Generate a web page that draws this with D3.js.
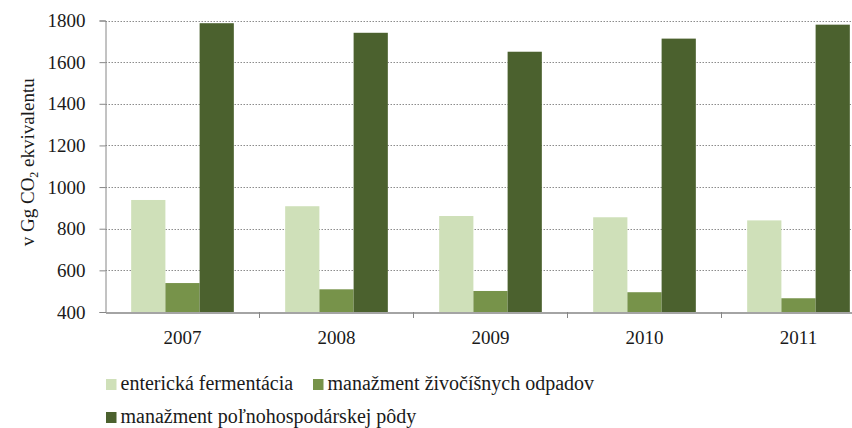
<!DOCTYPE html>
<html>
<head>
<meta charset="utf-8">
<script src="https://cdn.jsdelivr.net/npm/d3@7"></script>
<style>
  body { margin: 0; background: #fff; }
  svg { display: block; }
</style>
</head>
<body>
<div id="chart"></div>
<script>
const years = ["2007", "2008", "2009", "2010", "2011"];
const seriesNames = ["enterická fermentácia", "manažment živočíšnych odpadov", "manažment poľnohospodárskej pôdy"];
const enteric = [938, 908, 861, 855, 840];
const manure = [539, 509, 501, 495, 466];
const soils = [1787, 1741, 1650, 1713, 1780];
const yTicks = [400, 600, 800, 1000, 1200, 1400, 1600, 1800];
const colors = ["#cfe0b9", "#77934a", "#4b612e"];

const width = 852, height = 428;
const margin = { top: 20.5, left: 105.5, bottom: 116 };
const plotBottom = height - margin.bottom;
const fontFamily = '"Liberation Serif", "DejaVu Serif", serif';
const fontSize = 19;

const svg = d3.select("#chart").append("svg")
  .attr("width", width)
  .attr("height", height)
  .attr("font-family", fontFamily);

const data = years.map((y, i) => ({ year: y, values: [enteric[i], manure[i], soils[i]] }));

const x = d3.scaleBand()
  .domain(years)
  .range([margin.left, margin.left + 154 * years.length]);

const x1 = d3.scaleBand()
  .domain(d3.range(seriesNames.length))
  .range([0, x.bandwidth()])
  .paddingOuter(0.75);

const y = d3.scaleLinear()
  .domain([400, 1800])
  .range([plotBottom, margin.top]);

// gridlines
svg.append("g")
  .selectAll("line")
  .data(yTicks.slice(1))
  .join("line")
  .attr("x1", margin.left)
  .attr("x2", width)
  .attr("y1", d => Math.round(y(d)) + 0.5)
  .attr("y2", d => Math.round(y(d)) + 0.5)
  .attr("stroke", "#8c8c8c")
  .attr("stroke-dasharray", "1.5,1.5");

// bars
svg.append("g")
  .selectAll("g")
  .data(data)
  .join("g")
  .attr("transform", d => `translate(${x(d.year)},0)`)
  .selectAll("rect")
  .data(d => d.values)
  .join("rect")
  .attr("x", (d, i) => x1(i))
  .attr("width", x1.bandwidth())
  .attr("y", d => y(d))
  .attr("height", d => plotBottom - y(d))
  .attr("fill", (d, i) => colors[i]);

// y axis
svg.append("g")
  .attr("transform", `translate(${margin.left},0)`)
  .call(d3.axisLeft(y).tickValues(yTicks).tickSize(6).tickFormat(d3.format("d")))
  .attr("font-family", fontFamily)
  .attr("font-size", fontSize)
  .call(g => g.select(".domain").attr("stroke", "#868686"))
  .call(g => g.selectAll(".tick line").attr("stroke", "#868686"))
  .call(g => g.selectAll(".tick text").attr("fill", "#1a1a1a").attr("x", -20));

// x axis
svg.append("g")
  .attr("transform", `translate(0,${Math.round(plotBottom) + 0.5})`)
  .call(d3.axisBottom(x).tickSize(0))
  .attr("font-family", fontFamily)
  .attr("font-size", fontSize)
  .call(g => g.select(".domain").attr("stroke", "#868686").attr("stroke-width", 1.5))
  .call(g => g.selectAll(".tick text").attr("fill", "#1a1a1a").attr("y", 31).attr("dy", 0));

svg.append("g")
  .selectAll("line")
  .data(years)
  .join("line")
  .attr("x1", d => x(d) + x.step())
  .attr("x2", d => x(d) + x.step())
  .attr("y1", plotBottom)
  .attr("y2", plotBottom + 6)
  .attr("stroke", "#868686");

// y label
const yLabel = svg.append("text")
  .attr("transform", `translate(34,${(margin.top + plotBottom) / 2 - 4}) rotate(-90)`)
  .attr("text-anchor", "middle")
  .attr("font-size", fontSize)
  .attr("fill", "#1a1a1a");
yLabel.append("tspan").text("v Gg CO");
yLabel.append("tspan").attr("font-size", 12).attr("dy", 4).text("2");
yLabel.append("tspan").attr("dy", -4).text(" ekvivalentu");

// legend
const legendItems = [
  { name: seriesNames[0], x: 106, y: 390 },
  { name: seriesNames[1], x: 313, y: 390 },
  { name: seriesNames[2], x: 106, y: 423 }
];
const legend = svg.append("g")
  .selectAll("g")
  .data(legendItems)
  .join("g")
  .attr("transform", d => `translate(${d.x},${d.y})`);
legend.append("rect")
  .attr("x", 0)
  .attr("y", -11)
  .attr("width", 10.5)
  .attr("height", 11)
  .attr("fill", (d, i) => colors[i]);
legend.append("text")
  .attr("x", 14.5)
  .attr("font-family", fontFamily)
  .attr("font-size", 20)
  .attr("fill", "#1a1a1a")
  .text(d => d.name);
</script>
</body>
</html>
